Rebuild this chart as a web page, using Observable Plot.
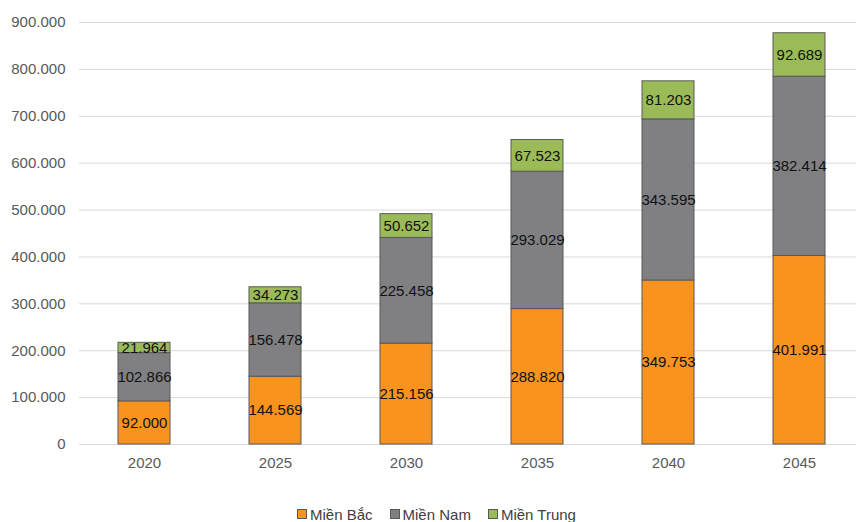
<!DOCTYPE html>
<html>
<head>
<meta charset="utf-8">
<script src="https://cdn.jsdelivr.net/npm/d3@7"></script>
<script src="https://cdn.jsdelivr.net/npm/@observablehq/plot@0.6"></script>
<style>
  body { margin: 0; background: #fff; font-family: "Liberation Sans", Arial, sans-serif; }
  #legend { display: flex; justify-content: flex-start; height: 38px; align-items: center; font-size: 15px; color: #404040; padding-left: 297px; }
  .item { display: flex; align-items: center; margin-right: 17px; }
  .sw { width: 8px; height: 8px; border: 1px solid #595959; margin-right: 3px; }
</style>
</head>
<body>
<div id="chart"></div>
<div id="legend"></div>
<script>
const years = ["2020", "2025", "2030", "2035", "2040", "2045"];
const series = ["Miền Bắc", "Miền Nam", "Miền Trung"];
const mienBac = [92000, 144569, 215156, 288820, 349753, 401991];
const mienNam = [102866, 156478, 225458, 293029, 343595, 382414];
const mienTrung = [21964, 34273, 50652, 67523, 81203, 92689];
const yTicks = [0, 100000, 200000, 300000, 400000, 500000, 600000, 700000, 800000, 900000];
const colors = ["#F7931E", "#808083", "#9BBB59"];

const values = [mienBac, mienNam, mienTrung];
const data = [];
years.forEach((yr, i) => series.forEach((s, j) => data.push({year: yr, series: s, value: values[j][i]})));

const fmt = d3.formatLocale({decimal: ",", thousands: ".", grouping: [3], currency: ["", ""]}).format(",d");

const chart = Plot.plot({
  width: 856,
  height: 495,
  marginTop: 22,
  marginBottom: 51,
  marginLeft: 79,
  marginRight: 0,
  style: {fontFamily: "'Liberation Sans', Arial, sans-serif", fontSize: "15px", color: "#595959"},
  x: {domain: years, range: [78.5, 864.5], paddingInner: 0.6, paddingOuter: 0.3, label: null, tickSize: 0, tickPadding: 13},
  y: {domain: [0, 900000], ticks: yTicks, tickFormat: fmt, label: null, tickSize: 0, tickPadding: 14},
  color: {domain: series, range: colors},
  marks: [
    Plot.ruleY(yTicks, {stroke: "#d9d9d9", strokeWidth: 1}),
    Plot.barY(data, Plot.stackY({x: "year", y: "value", fill: "series", stroke: "#595959", strokeWidth: 1, inset: 0})),
    Plot.text(data, Plot.stackY({x: "year", y: "value", text: d => fmt(d.value), fill: "#111", fontSize: 15}))
  ]
});
document.getElementById("chart").appendChild(chart);

const legend = document.getElementById("legend");
series.forEach((s, j) => {
  const it = document.createElement("div");
  it.className = "item";
  const sw = document.createElement("div");
  sw.className = "sw";
  sw.style.background = colors[j];
  it.appendChild(sw);
  const t = document.createElement("span");
  t.textContent = s;
  it.appendChild(t);
  legend.appendChild(it);
});
</script>
</body>
</html>
